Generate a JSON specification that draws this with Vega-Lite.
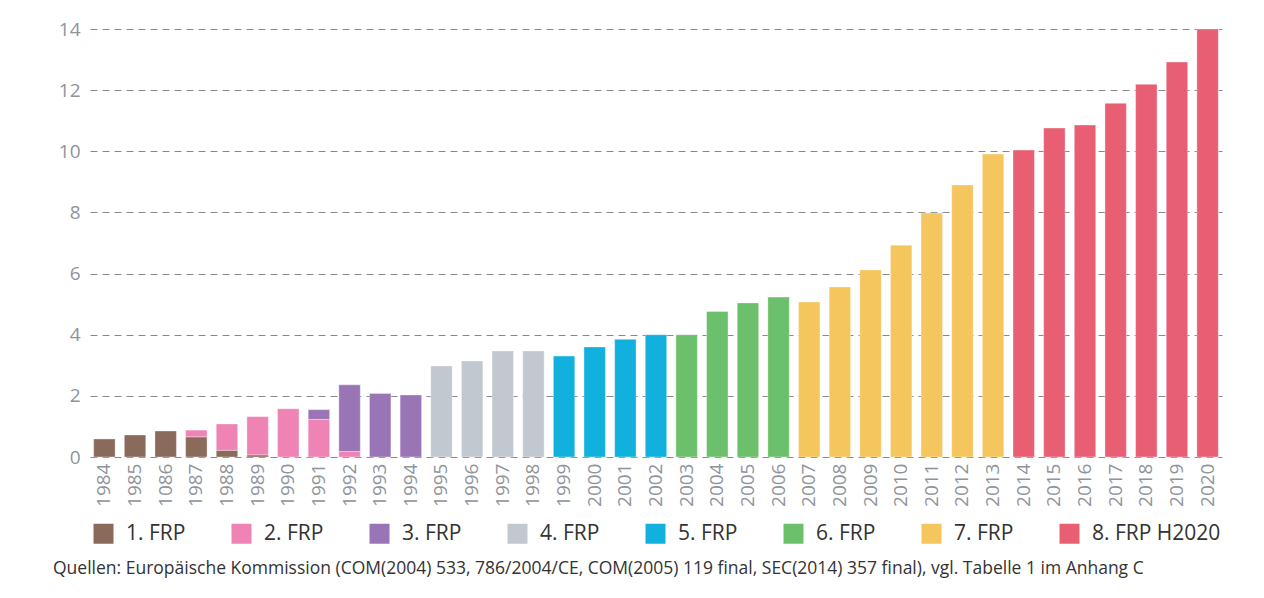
{
  "$schema": "https://vega.github.io/schema/vega-lite/v6.json",
  "width": 1132,
  "height": 428,
  "autosize": {"type": "none"},
  "padding": {"left": 90, "top": 29, "right": 42, "bottom": 141},
  "background": "white",
  "config": {
    "view": {"stroke": null},
    "font": "Open Sans"
  },
  "title": {
    "text": "Quellen: Europäische Kommission (COM(2004) 533, 786/2004/CE, COM(2005) 119 final, SEC(2014) 357 final), vgl. Tabelle 1 im Anhang C",
    "orient": "bottom",
    "anchor": "start",
    "frame": "group",
    "dx": -37,
    "offset": 16,
    "fontSize": 17.5,
    "fontWeight": "normal",
    "color": "#333333",
    "font": "Open Sans"
  },
  "data": {
    "values": [
      {"year": "1984", "prog": "1. FRP", "ord": 1, "value": 0.59},
      {"year": "1985", "prog": "1. FRP", "ord": 1, "value": 0.72},
      {"year": "1086", "prog": "1. FRP", "ord": 1, "value": 0.85},
      {"year": "1987", "prog": "1. FRP", "ord": 1, "value": 0.66},
      {"year": "1987", "prog": "2. FRP", "ord": 2, "value": 0.22},
      {"year": "1988", "prog": "1. FRP", "ord": 1, "value": 0.22},
      {"year": "1988", "prog": "2. FRP", "ord": 2, "value": 0.86},
      {"year": "1989", "prog": "1. FRP", "ord": 1, "value": 0.07},
      {"year": "1989", "prog": "2. FRP", "ord": 2, "value": 1.25},
      {"year": "1990", "prog": "2. FRP", "ord": 2, "value": 1.58},
      {"year": "1991", "prog": "2. FRP", "ord": 2, "value": 1.23},
      {"year": "1991", "prog": "3. FRP", "ord": 3, "value": 0.32},
      {"year": "1992", "prog": "2. FRP", "ord": 2, "value": 0.18},
      {"year": "1992", "prog": "3. FRP", "ord": 3, "value": 2.18},
      {"year": "1993", "prog": "3. FRP", "ord": 3, "value": 2.08},
      {"year": "1994", "prog": "3. FRP", "ord": 3, "value": 2.03},
      {"year": "1995", "prog": "4. FRP", "ord": 4, "value": 2.98},
      {"year": "1996", "prog": "4. FRP", "ord": 4, "value": 3.14},
      {"year": "1997", "prog": "4. FRP", "ord": 4, "value": 3.47},
      {"year": "1998", "prog": "4. FRP", "ord": 4, "value": 3.47},
      {"year": "1999", "prog": "5. FRP", "ord": 5, "value": 3.3},
      {"year": "2000", "prog": "5. FRP", "ord": 5, "value": 3.6},
      {"year": "2001", "prog": "5. FRP", "ord": 5, "value": 3.85},
      {"year": "2002", "prog": "5. FRP", "ord": 5, "value": 4.0},
      {"year": "2003", "prog": "6. FRP", "ord": 6, "value": 4.0},
      {"year": "2004", "prog": "6. FRP", "ord": 6, "value": 4.76},
      {"year": "2005", "prog": "6. FRP", "ord": 6, "value": 5.04},
      {"year": "2006", "prog": "6. FRP", "ord": 6, "value": 5.23},
      {"year": "2007", "prog": "7. FRP", "ord": 7, "value": 5.07},
      {"year": "2008", "prog": "7. FRP", "ord": 7, "value": 5.56},
      {"year": "2009", "prog": "7. FRP", "ord": 7, "value": 6.12},
      {"year": "2010", "prog": "7. FRP", "ord": 7, "value": 6.93},
      {"year": "2011", "prog": "7. FRP", "ord": 7, "value": 7.98},
      {"year": "2012", "prog": "7. FRP", "ord": 7, "value": 8.9},
      {"year": "2013", "prog": "7. FRP", "ord": 7, "value": 9.91},
      {"year": "2014", "prog": "8. FRP H2020", "ord": 8, "value": 10.04},
      {"year": "2015", "prog": "8. FRP H2020", "ord": 8, "value": 10.76},
      {"year": "2016", "prog": "8. FRP H2020", "ord": 8, "value": 10.86},
      {"year": "2017", "prog": "8. FRP H2020", "ord": 8, "value": 11.57},
      {"year": "2018", "prog": "8. FRP H2020", "ord": 8, "value": 12.19},
      {"year": "2019", "prog": "8. FRP H2020", "ord": 8, "value": 12.92},
      {"year": "2020", "prog": "8. FRP H2020", "ord": 8, "value": 14.0}
    ]
  },
  "mark": {"type": "bar", "stroke": "white", "strokeOpacity": 0.35, "strokeWidth": 1},
  "encoding": {
    "x": {
      "field": "year",
      "type": "nominal",
      "sort": null,
      "scale": {"paddingInner": 0.3, "paddingOuter": 0.12},
      "axis": {
        "title": null,
        "labelAngle": -90,
        "labelFontSize": 19,
        "labelColor": "#8f949b",
        "labelPadding": 6,
        "domain": false,
        "ticks": false,
        "grid": false
      }
    },
    "y": {
      "field": "value",
      "type": "quantitative",
      "stack": "zero",
      "scale": {"domain": [0, 14], "nice": false},
      "axis": {
        "title": null,
        "values": [0, 2, 4, 6, 8, 10, 12, 14],
        "labelFontSize": 19,
        "labelColor": "#8f949b",
        "labelPadding": 10,
        "domain": false,
        "ticks": false,
        "grid": true,
        "gridDash": [7, 5],
        "gridColor": "#8a8a8a",
        "gridWidth": 1
      }
    },
    "order": {"field": "ord", "type": "quantitative", "sort": "ascending"},
    "color": {
      "field": "prog",
      "type": "nominal",
      "scale": {
        "domain": ["1. FRP", "2. FRP", "3. FRP", "4. FRP", "5. FRP", "6. FRP", "7. FRP", "8. FRP H2020"],
        "range": ["#8a6a5b", "#ee83b4", "#9a75b6", "#c2c8d0", "#12b0dd", "#6cc06c", "#f5c55e", "#e85f74"]
      },
      "legend": {
        "title": null,
        "orient": "none",
        "direction": "horizontal",
        "columns": 8,
        "legendX": 3,
        "legendY": 494,
        "symbolType": "square",
        "symbolSize": 400,
        "symbolStrokeWidth": 0,
        "labelFontSize": 21,
        "labelColor": "#333333",
        "labelOffset": 12,
        "columnPadding": 45,
        "labelLimit": 300
      }
    }
  }
}
